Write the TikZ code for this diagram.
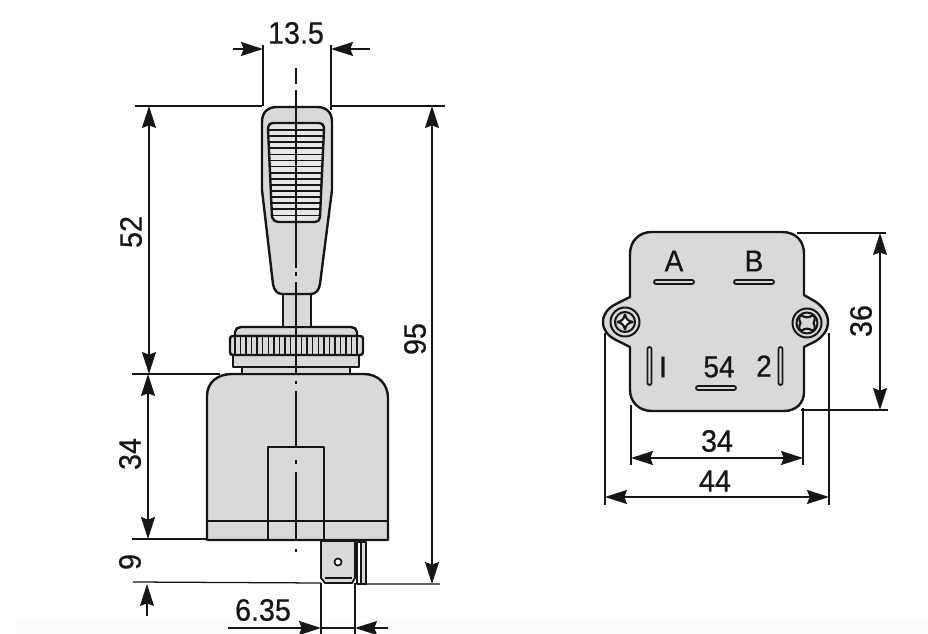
\documentclass[tikz,border=0pt]{standalone}
\usepackage{fontspec}
\usepackage{graphicx}
\setmainfont{Liberation Sans}[RawFeature={embolden=0.6}]
\usetikzlibrary{arrows.meta}
\definecolor{bodygray}{HTML}{D9D9D9}
\definecolor{inkc}{HTML}{161616}
\definecolor{gripgray}{HTML}{E6E6E6}
\definecolor{bandgray}{HTML}{FBFBFB}
\newcommand{\tallt}[1]{\scalebox{1}[1.08]{#1}}
\tikzset{
  part/.style={draw=inkc,line width=1.8pt,fill=bodygray,line join=round},
  thin part/.style={draw=inkc,line width=1.3pt},
  dimline/.style={draw=inkc,line width=0.95pt},
  tip/.tip={Stealth[length=16.5pt,width=10.5pt,inset=2pt]},
  dimtext/.style={font=\fontsize{21.5}{24}\selectfont,text=inkc,inner sep=0pt},
  pintext/.style={font=\fontsize{21}{24}\selectfont,text=inkc,inner sep=0pt},
  pinbar/.style={draw=inkc,line width=1.3pt,fill=bodygray,rounded corners=1.5pt},
}
\begin{document}
\begin{tikzpicture}[x=0.75pt,y=-0.75pt]
\useasboundingbox (0,0) rectangle (928,634);
\fill[bandgray] (15,622) rectangle (928,634);
% left view: body
\path[part] (207,540) -- (207,396) .. controls (207,382) and (218,374) .. (232,374) -- (364,374) .. controls (378,374) and (388,384) .. (388,398) -- (388,540) -- cycle;
\draw[thin part] (207,521) -- (388,521);
\draw[part,fill=none] (268,540) -- (268,447) -- (324,447) -- (324,540);
% terminals
\path[part,line width=1.4pt] (321,541) -- (321,578) -- (325,583) -- (352,583) -- (355,578) -- (355,541) -- cycle;
\draw[thin part] (325,578) -- (352,578);
\draw[part,fill=white,line width=1.3pt] (338,562) circle (3.6);
\path[part,fill=white,line width=1.3pt] (357,542) rectangle (366,584);
\path[part,line width=1.3pt] (361,542) rectangle (366,584);
% collar and knurled ring
\path[part] (242,374) -- (242,366) -- (350,366) -- (350,374) -- cycle;
\path[part] (233,367) -- (233,354) -- (359,354) -- (359,367) -- cycle;
\path[part] (235,336) -- (235,332) .. controls (235,329) and (238,327) .. (241,327) -- (351,327) .. controls (354,327) and (357,329) .. (357,332) -- (357,336) -- cycle;
\path[part] (233,336) -- (360,336) .. controls (362,336) and (363,337) .. (363,339) -- (363,352) .. controls (363,354) and (362,355) .. (360,355) -- (233,355) .. controls (231,355) and (230,354) .. (230,352) -- (230,339) .. controls (230,337) and (231,336) .. (233,336) -- cycle;
\foreach \k in {0,...,22} {
  \draw[inkc,line width=1.1pt] ({235+\k*5.55},336) -- ({235+\k*5.55},355);
}
% stem
\path[part] (283,327) -- (283,293) -- (311,293) -- (311,327) -- cycle;
% handle
\path[part] (262,122) .. controls (262,112) and (268,107) .. (277,107) -- (317,107) .. controls (326,107) and (332,112) .. (332,122) -- (332,190) -- (320,284) .. controls (319,290) and (316,294) .. (311,294) -- (282,294) .. controls (277,294) and (274,290) .. (273,284) -- (262,190) -- cycle;
% grip
\path[part,fill=gripgray] (268,129) .. controls (268,125) and (270,123) .. (274,123) -- (318,123) .. controls (322,123) and (324,125) .. (324,129) -- (320,217) .. controls (320,220) and (318,222) .. (315,222) -- (278,222) .. controls (275,222) and (273,220) .. (272,217) -- cycle;
\foreach \k in {0,...,14} {
  \draw[inkc,line width=1.25pt] ({268.4+\k*0.27},{130+\k*6.1}) -- ({323.6-\k*0.27},{130+\k*6.1});
}
% centre line
\draw[dimline] (296,68) -- (296,84) (296,90) -- (296,268) (296,272) -- (296,276) (296,282) -- (296,375) (296,381) -- (296,384) (296,391) -- (296,447) (296,460) -- (296,464) (296,472) -- (296,540) (296,549) -- (296,552);
% extension lines, left view
\coordinate (extA) at (263,45); \coordinate (extAb) at (263,106);
\coordinate (extB) at (331,45); \coordinate (extBb) at (331,110);
\draw[dimline] (extA) -- (extAb) (extB) -- (extBb);
\draw[dimline] (135,106) -- (262,106) (332,106) -- (445,106);
\draw[dimline] (132,374) -- (220,374);
\draw[dimline] (132,539) -- (207,539);
\draw[dimline] (133,582) -- (321,583) (358,584) -- (440,584);
\draw[dimline] (321,583) -- (321,634) (355,583) -- (355,634);
% dimension arrows, left view
\coordinate (d52a) at (149,106); \coordinate (d52b) at (149,374);
\coordinate (d34b) at (148,539);
\coordinate (d9a) at (147,584); \coordinate (d9b) at (147,616);
\coordinate (d95a) at (432,106); \coordinate (d95b) at (432,584);
\draw[dimline,{tip}-{tip}] (d52a) -- (d52b);
\draw[dimline,{tip}-{tip}] (148,374) -- (d34b);
\draw[dimline,{tip}-] (d9a) -- (d9b);
\draw[dimline,{tip}-{tip}] (d95a) -- (d95b);
\coordinate (d13a) at (233,49); \coordinate (d13b) at (370,49);
\draw[dimline,-{tip}] (d13a) -- (263,49);
\draw[dimline,-{tip}] (d13b) -- (331,49);
\coordinate (d6a) at (228,628); \coordinate (d6b) at (388,628);
\draw[dimline,-{tip}] (d6a) -- (321,628);
\draw[dimline,-{tip}] (d6b) -- (355,628);
\draw[dimline] (321,628) -- (355,628);
\node[dimtext] (t135) at (296,33) {\tallt{13.5}};
\node[dimtext,rotate=90] (t52) at (131,232) {\tallt{52}};
\node[dimtext,rotate=90] (t34l) at (130,454) {\tallt{34}};
\node[dimtext,rotate=90] (t9) at (130,562) {\tallt{9}};
\node[dimtext,rotate=90] (t95) at (415,339) {\tallt{95}};
\node[dimtext] (t635) at (263,610) {\tallt{6.35}};
% right view: plate
\path[part] (652,232) -- (782,232) .. controls (796,232) and (804,241) .. (804,254) -- (804,295) -- (816,302) .. controls (823,307) and (828,314) .. (828,322) .. controls (828,331) and (822,337) .. (816,341) -- (804,347) -- (804,392) .. controls (804,403) and (796,411) .. (784,411) -- (652,411) .. controls (639,411) and (630,402) .. (630,390) -- (630,347) -- (616,340) .. controls (608,336) and (603,330) .. (603,322) .. controls (603,314) and (608,308) .. (616,304) -- (630,297) -- (630,254) .. controls (630,241) and (639,232) .. (652,232) -- cycle;
% screws
\draw[part,line width=1.5pt] (625,322) circle (14.5);
\draw[part,line width=1.5pt] (625,322) circle (10);
\draw[part,line width=1.6pt,fill=white] (625,314.5) .. controls (626,319) and (628,321) .. (632.5,322) .. controls (628,323) and (626,325) .. (625,329.5) .. controls (624,325) and (622,323) .. (617.5,322) .. controls (622,321) and (624,319) .. (625,314.5) -- cycle;
\draw[part,line width=1.5pt] (807,323) circle (14.5);
\draw[part,line width=1.5pt] (807,323) circle (10.5);
\draw[part,line width=1.6pt] (802,315.5) .. controls (805,318) and (809,318) .. (812,315.5) .. controls (816,315.5) and (815,320) .. (813.5,323) .. controls (815,326) and (816,330.5) .. (812,330.5) .. controls (809,328) and (805,328) .. (802,330.5) .. controls (798,330.5) and (799,326) .. (800.5,323) .. controls (799,320) and (798,315.5) .. (802,315.5) -- cycle;
% pin bars
\path[pinbar] (654,280) rectangle (694,284);
\path[pinbar] (734,280) rectangle (774,284);
\path[pinbar] (696,386) rectangle (736,390);
\path[pinbar] (647.5,347) rectangle (651.5,385);
\path[pinbar] (778.5,347) rectangle (782.5,385);
\node[pintext] (ta) at (674,261) {\tallt{A}};
\node[pintext] (tb) at (754,261) {\tallt{B}};
\node[pintext] (t1) at (663,367) {\tallt{I}};
\node[pintext] (t54) at (719,367) {\tallt{54}};
\node[pintext] (t2) at (764,366) {\tallt{2}};
% extension lines, right view
\draw[dimline] (797,233) -- (886,233);
\draw[dimline] (801,410) -- (888,410);
\draw[dimline] (631,405) -- (631,465) (803,408) -- (803,465);
\draw[dimline] (605,333) -- (605,505) (829,333) -- (829,505);
\coordinate (d36a) at (880,233); \coordinate (d36b) at (880,410);
\coordinate (d34a) at (631,458); \coordinate (d34c) at (803,458);
\coordinate (d44a) at (605,497); \coordinate (d44b) at (829,497);
\draw[dimline,{tip}-{tip}] (d36a) -- (d36b);
\draw[dimline,{tip}-{tip}] (d34a) -- (d34c);
\draw[dimline,{tip}-{tip}] (d44a) -- (d44b);
\node[dimtext,rotate=90] (t36) at (861,321) {\tallt{36}};
\node[dimtext] (t34r) at (717,441) {\tallt{34}};
\node[dimtext] (t44) at (715,481) {\tallt{44}};
\end{tikzpicture}
\end{document}
